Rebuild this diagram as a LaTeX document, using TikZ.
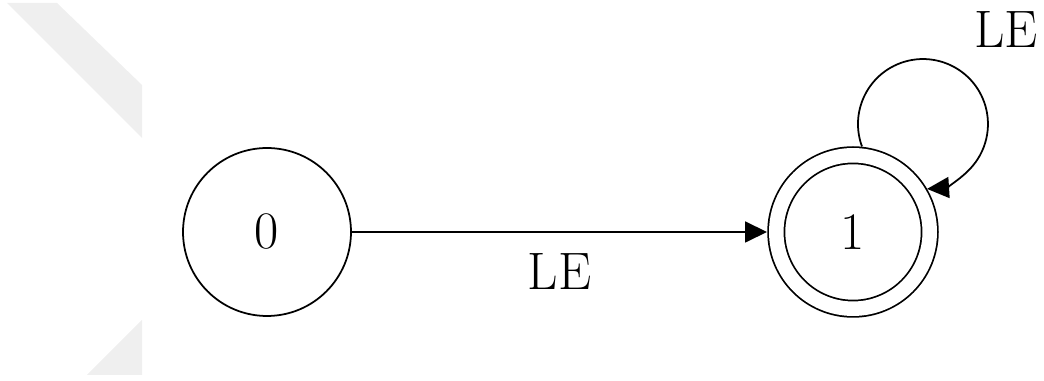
\documentclass[tikz,border=0pt]{standalone}
\usepackage{tikz}
\usetikzlibrary{arrows.meta,positioning,calc}
\definecolor{cmark}{HTML}{EFEFEF}

\begin{document}
\begin{tikzpicture}[
  x=0.02cm, y=0.02cm,
  font=\fontsize{30}{36}\selectfont,
  state/.style={circle, draw, line width=1pt, minimum size=3.36cm, inner sep=0pt},
  accept/.style={state, double, double distance=0.29cm, minimum size=3.07cm,
                 outer sep=0.185cm},
  arr/.style={-{Triangle[length=0.44cm, width=0.42cm]}, line width=1pt},
  lbl/.style={inner sep=0pt}
]
\useasboundingbox (0,0) rectangle (1044,381);

% Watermark shapes
\fill[cmark] (7,378) -- (57,378) -- (142,296) -- (142,243) -- cycle;
\fill[cmark] (142,61) -- (142,6) -- (87,6) -- cycle;

% States
\node[state] (s0) at (267,149) {0};
\node[accept] (s1) at (853,149) {1};

% Transitions
\draw[arr] (s0) -- node[lbl, below=0.42cm] (t01) {LE} (s1);
\draw[arr] (s1.84) arc[start angle=200.2, end angle=-86.4, radius=1.3cm];
\node[lbl, anchor=south] (t11) at ($(s1)+(153,184)$) {LE};
\end{tikzpicture}
\end{document}
